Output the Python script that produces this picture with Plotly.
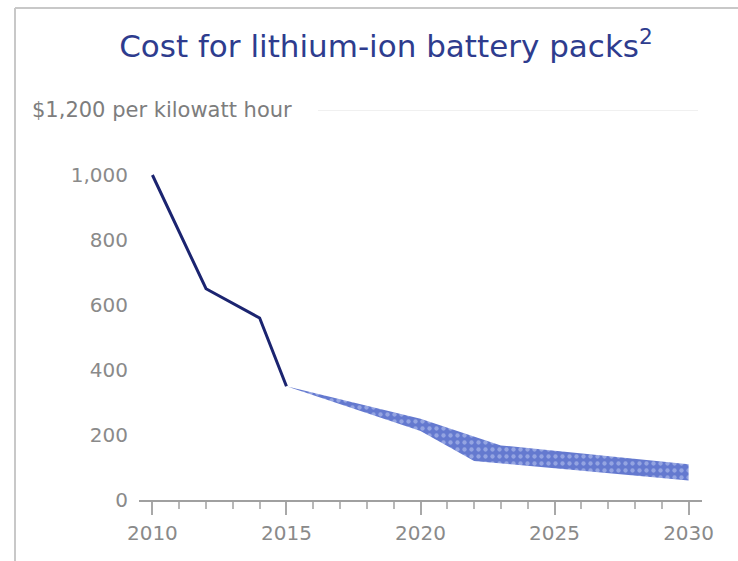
import plotly.graph_objects as go

# ---- data ----
hist_years = [2010, 2012, 2014, 2015]
hist_cost = [1000, 650, 560, 350]

upper_years = [2015, 2020, 2023, 2030]
upper_cost = [350, 250, 168, 110]
lower_years = [2015, 2020, 2022, 2030]
lower_cost = [350, 212, 120, 60]

x_tickvals = [2010, 2015, 2020, 2025, 2030]
y_tickvals = [0, 200, 400, 600, 800, 1000]
y_ticktext = ["0", "200", "400", "600", "800", "1,000"]

title_text = "Cost for lithium-ion battery packs<sup>2</sup>"
unit_text = "$1,200 per kilowatt hour"

FONT = "DejaVu Sans"
GRAY = "#8a8a8a"

fig = go.Figure()

# projected range band (polygon: upper forward, lower reversed)
band_x = upper_years + lower_years[::-1]
band_y = upper_cost + lower_cost[::-1]
fig.add_trace(go.Scatter(
    x=band_x, y=band_y, mode="lines", fill="toself",
    line=dict(width=0, color="#6479cf"),
    fillcolor="#6479cf",
    fillpattern=dict(shape=".", bgcolor="#6479cf", fgcolor="#c4d0f4",
                     size=7, solidity=0.3),
    hoverinfo="skip", showlegend=False,
))

# historical line
fig.add_trace(go.Scatter(
    x=hist_years, y=hist_cost, mode="lines",
    line=dict(color="#1b2470", width=3),
    showlegend=False,
))

L, R, T, B = 139, 36, 110, 61
W, H = 738, 561
pw, ph = W - L - R, H - T - B

def px_to_paper_x(px):
    return (px - L) / pw

def px_to_paper_y(py):
    return (H - B - py) / ph

fig.update_layout(
    width=W, height=H,
    margin=dict(l=L, r=R, t=T, b=B),
    paper_bgcolor="white", plot_bgcolor="white",
    title=dict(text=title_text, xref="container", x=386 / W,
               yref="container", y=1 - 46 / H, xanchor="center", yanchor="middle",
               font=dict(family=FONT, size=31, color="#2e3c8e")),
    font=dict(family=FONT),
)

fig.update_xaxes(
    range=[2009.5, 2030.5], tickvals=x_tickvals,
    showgrid=False, zeroline=False,
    showline=True, linecolor="#a0a0a0", linewidth=1.5,
    ticks="outside", ticklen=13, tickwidth=2, tickcolor="#a8a8a8",
    minor=dict(dtick=1, tick0=2010, ticks="outside", ticklen=7, tickwidth=2,
               tickcolor="#b8b8b8", showgrid=False),
    tickfont=dict(family=FONT, size=20, color=GRAY),
    ticklabelstandoff=1,
)
fig.update_yaxes(
    range=[0, 1200], tickvals=y_tickvals, ticktext=y_ticktext,
    showgrid=False, zeroline=False, showline=False, ticks="",
    tickfont=dict(family=FONT, size=20, color=GRAY),
    ticklabelstandoff=10,
)

# unit label at top of axis
fig.add_annotation(
    text=unit_text, xref="paper", x=px_to_paper_x(30), xanchor="left",
    yref="y", y=1200, yanchor="middle", showarrow=False,
    font=dict(family=FONT, size=21, color="#7d7d7d"),
)

# light gridline at 1200
fig.add_shape(type="line", xref="paper", yref="y",
              x0=px_to_paper_x(318), x1=px_to_paper_x(698), y0=1200, y1=1200,
              line=dict(color="#ebebeb", width=1.5))

# frame borders (top and left)
fig.add_shape(type="line", xref="paper", yref="paper",
              x0=px_to_paper_x(15), x1=px_to_paper_x(738),
              y0=px_to_paper_y(8), y1=px_to_paper_y(8),
              line=dict(color="#c8c8c8", width=2))
fig.add_shape(type="line", xref="paper", yref="paper",
              x0=px_to_paper_x(15), x1=px_to_paper_x(15),
              y0=px_to_paper_y(8), y1=px_to_paper_y(561),
              line=dict(color="#c8c8c8", width=2))

fig.write_html("out.html")
